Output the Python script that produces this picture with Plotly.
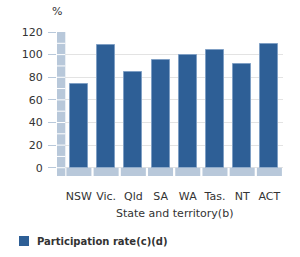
import plotly.graph_objects as go

states = ["NSW", "Vic.", "Qld", "SA", "WA", "Tas.", "NT", "ACT"]
participation = [73.7, 108.5, 84.9, 95.2, 99.4, 103.8, 91.7, 109.4]
y_ticks = [0, 20, 40, 60, 80, 100, 120]
series_name = "Participation rate(c)(d)"
x_title = "State and territory(b)"
y_unit = "%"

BAR = "#2e5f96"
WALL = "#b8c8da"
TXT = "#333333"
FONT = "DejaVu Sans"

n = len(states)
x_idx = list(range(n))
y_lo, y_hi = -7.3, 120
x_lo = -0.5 - 8.3 / 27.2

fig = go.Figure()
fig.add_trace(go.Bar(
    x=x_idx, y=participation, width=0.66, name=series_name,
    marker=dict(color=BAR, line=dict(color="#7f9fc4", width=1)),
    showlegend=False,
))

shapes = []
# left wall
shapes.append(dict(type="rect", xref="x", yref="y", x0=x_lo, x1=-0.5,
                   y0=y_lo, y1=y_hi, fillcolor=WALL, line=dict(width=0), layer="above"))
for v in range(0, 120, 10):
    shapes.append(dict(type="line", xref="x", yref="y", x0=x_lo, x1=-0.5,
                       y0=v, y1=v, line=dict(color="white", width=1), layer="above"))
# floor
for i in x_idx:
    shapes.append(dict(type="rect", xref="x", yref="y", x0=i - 0.5 + 0.04, x1=i + 0.5 - 0.04,
                       y0=y_lo, y1=0, fillcolor=WALL, line=dict(width=0), layer="above"))
# legend square
shapes.append(dict(type="rect", xref="paper", yref="paper",
                   x0=(19 - 57) / 226, x1=(29 - 57) / 226,
                   y0=(257 - 81 - 246) / 144, y1=(257 - 81 - 236) / 144,
                   fillcolor=BAR, line=dict(width=0)))

annotations = [
    dict(text=y_unit, xref="paper", yref="paper", x=0, y=(257 - 81 - 11) / 144,
         xanchor="center", yanchor="middle", showarrow=False,
         font=dict(family=FONT, size=11, color=TXT)),
    dict(text=x_title, xref="x", yref="paper", x=(n - 1) / 2, y=(257 - 81 - 213) / 144,
         xanchor="center", yanchor="middle", showarrow=False,
         font=dict(family=FONT, size=11, color=TXT)),
    dict(text="<b>" + series_name + "</b>", xref="paper", yref="paper",
         x=(35 - 57) / 226, y=(257 - 81 - 241) / 144,
         xanchor="left", yanchor="middle", showarrow=False,
         font=dict(family=FONT, size=10, color=TXT)),
]

fig.update_layout(
    width=300, height=257,
    margin=dict(l=57, r=17, t=32, b=81),
    paper_bgcolor="white", plot_bgcolor="white",
    bargap=0,
    shapes=shapes, annotations=annotations,
    showlegend=False,
    font=dict(family=FONT, size=11, color=TXT),
)
fig.update_xaxes(
    range=[x_lo, n - 0.5], tickmode="array", tickvals=x_idx, ticktext=states,
    showgrid=False, zeroline=False, showline=False,
    ticks="outside", ticklen=10, tickcolor="rgba(0,0,0,0)",
    tickfont=dict(family=FONT, size=11, color=TXT), fixedrange=True,
)
fig.update_yaxes(
    range=[y_lo, y_hi], tickmode="array", tickvals=y_ticks,
    showgrid=True, gridcolor="#e3e3e3", gridwidth=1, zeroline=False, showline=False,
    ticks="outside", ticklen=8, tickcolor="#b8c8da", ticklabelstandoff=3,
    tickfont=dict(family=FONT, size=11, color=TXT), fixedrange=True,
)

fig.write_html("out.html", config={"displayModeBar": False})
